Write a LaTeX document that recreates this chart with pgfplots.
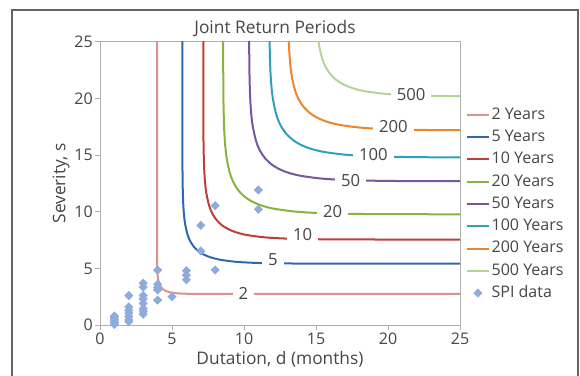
\documentclass[border=0pt]{standalone}
\usepackage{fontspec}
\setmainfont{Open Sans}
\usepackage{pgfplots}
\pgfplotsset{compat=1.18}
\definecolor{axgray}{RGB}{175,175,175}
\definecolor{txtgray}{RGB}{70,70,70}
\definecolor{frgray}{RGB}{100,100,100}
\definecolor{cA}{RGB}{220,145,145}
\definecolor{cB}{RGB}{49,104,172}
\definecolor{cC}{RGB}{190,62,58}
\definecolor{cD}{RGB}{138,178,64}
\definecolor{cE}{RGB}{118,86,160}
\definecolor{cF}{RGB}{45,160,190}
\definecolor{cG}{RGB}{236,134,46}
\definecolor{cH}{RGB}{182,212,150}
\definecolor{cS}{RGB}{143,170,220}
\newcommand{\fs}{\fontsize{12}{14}\selectfont}
\newcommand{\fl}{\fontsize{13}{15}\selectfont}
\newcommand{\fc}{\fontsize{12.5}{14}\selectfont}
\begin{document}
\begin{tikzpicture}
\begin{axis}[name=ax, at={(0,0)}, anchor=south west,
  scale only axis, width=270pt, height=212.25pt,
  xmin=0, xmax=25, ymin=0, ymax=25,
  xtick={0,5,...,25}, ytick={0,5,...,25},
  xtick pos=bottom, ytick pos=left, tick align=outside,
  major tick length=3.75pt,
  axis line style={draw=axgray, line width=0.75pt},
  every tick/.style={draw=axgray, line width=0.75pt},
  /pgf/number format/assume math mode=true,
  tick label style={font=\fs, text=txtgray},
  xticklabel style={inner sep=1pt, yshift=-1pt},
  yticklabel style={inner sep=1.5pt},
  title={Joint Return Periods},
  every axis title/.style={at={(axis description cs:0.486,1.046)}, anchor=center, font=\fl, text=txtgray},
  xlabel={Dutation, d (months)},
  ylabel={Severity, s},
  every axis x label/.style={at={(axis description cs:0.5,-0.12)}, anchor=center, font=\fl, text=txtgray},
  every axis y label/.style={at={(axis description cs:-0.108,0.5)}, rotate=90, anchor=center, font=\fl, text=txtgray},
  legend style={at={(axis description cs:1.011,0.4276)}, anchor=west, draw=none, fill=none,
    font=\fs, text=txtgray, row sep=3.2pt, inner sep=1pt,
    nodes={inner sep=1pt, text height=9pt, text depth=2.5pt}},
  legend cell align=left,
]
\addplot[cA, line width=1.5pt, smooth] coordinates {
(3.96,30) (3.961,6.885) (3.966,5.503) (3.985,4.671) (4.023,4.122) (4.094,3.706) (4.174,3.462) (4.267,3.290) (4.376,3.156) (4.510,3.047) (4.682,2.954) (4.926,2.874) (5.342,2.803) (5.891,2.765) (6.723,2.746) (8.105,2.741) (30,2.74)};
\addlegendentry{2 Years}
\addplot[cB, line width=1.5pt, smooth] coordinates {
(5.72,30) (5.722,16.473) (5.736,12.788) (5.785,10.570) (5.889,9.104) (6.077,7.995) (6.291,7.346) (6.537,6.886) (6.829,6.529) (7.186,6.237) (7.646,5.991) (8.295,5.777) (9.404,5.589) (10.870,5.485) (13.088,5.436) (16.773,5.422) (30,5.42)};
\addlegendentry{5 Years}
\addplot[cC, line width=1.5pt, smooth] coordinates {
(7.17,30) (7.172,20.329) (7.189,16.070) (7.246,13.505) (7.365,11.810) (7.583,10.527) (7.830,9.777) (8.115,9.245) (8.452,8.832) (8.865,8.495) (9.397,8.210) (10.147,7.963) (11.430,7.745) (13.125,7.626) (15.690,7.569) (19.949,7.552) (30,7.55)};
\addlegendentry{10 Years}
\addplot[cD, line width=1.5pt, smooth] coordinates {
(8.55,30) (8.552,24.977) (8.572,19.911) (8.640,16.862) (8.782,14.846) (9.041,13.321) (9.335,12.429) (9.674,11.796) (10.075,11.305) (10.566,10.904) (11.199,10.565) (12.091,10.271) (13.616,10.012) (15.632,9.870) (18.681,9.802) (23.747,9.782) (30,9.78)};
\addlegendentry{20 Years}
\addplot[cE, line width=1.5pt, smooth] coordinates {
(10.35,30) (10.352,27.897) (10.372,22.831) (10.440,19.782) (10.582,17.766) (10.841,16.241) (11.135,15.349) (11.474,14.716) (11.875,14.225) (12.366,13.824) (12.999,13.485) (13.891,13.191) (15.416,12.932) (17.432,12.790) (20.481,12.722) (25.547,12.702) (30,12.7)};
\addlegendentry{50 Years}
\addplot[cF, line width=1.5pt, smooth] coordinates {
(11.752,30.688) (11.773,25.392) (11.844,22.204) (11.992,20.096) (12.263,18.502) (12.570,17.569) (12.925,16.908) (13.344,16.394) (13.858,15.975) (14.519,15.620) (15.452,15.313) (17.046,15.042) (19.154,14.894) (22.342,14.823) (27.638,14.802) (30,14.8)};
\addlegendentry{100 Years}
\addplot[cG, line width=1.5pt, smooth] coordinates {
(13.052,32.397) (13.072,27.331) (13.140,24.282) (13.282,22.266) (13.541,20.741) (13.835,19.849) (14.174,19.216) (14.575,18.725) (15.066,18.324) (15.699,17.985) (16.591,17.691) (18.116,17.432) (20.132,17.290) (23.181,17.222) (28.247,17.202) (30,17.2)};
\addlegendentry{200 Years}
\addplot[cH, line width=1.5pt, smooth] coordinates {
(14.952,34.706) (14.971,29.871) (15.036,26.960) (15.171,25.036) (15.419,23.580) (15.699,22.728) (16.023,22.124) (16.406,21.656) (16.874,21.273) (17.478,20.949) (18.330,20.669) (19.786,20.421) (21.710,20.286) (24.621,20.221) (29.456,20.202) (30,20.2)};
\addlegendentry{500 Years}
\node[fill=white, inner xsep=4.5pt, inner ysep=1pt, font=\fc, text=txtgray] at (axis cs:9.95,2.8) {2};
\node[fill=white, inner xsep=4.5pt, inner ysep=1pt, font=\fc, text=txtgray] at (axis cs:12.0,5.74) {5};
\node[fill=white, inner xsep=4.5pt, inner ysep=1pt, font=\fc, text=txtgray] at (axis cs:14.07,7.95) {10};
\node[fill=white, inner xsep=4.5pt, inner ysep=1pt, font=\fc, text=txtgray] at (axis cs:16.15,10.0) {20};
\node[fill=white, inner xsep=4.5pt, inner ysep=1pt, font=\fc, text=txtgray] at (axis cs:17.4,12.8) {50};
\node[fill=white, inner xsep=4.5pt, inner ysep=1pt, font=\fc, text=txtgray] at (axis cs:18.98,15.07) {100};
\node[fill=white, inner xsep=4.5pt, inner ysep=1pt, font=\fc, text=txtgray] at (axis cs:20.37,17.5) {200};
\node[fill=white, inner xsep=4.5pt, inner ysep=1pt, font=\fc, text=txtgray] at (axis cs:21.6,20.4) {500};
\addplot[only marks, mark=square*, mark size=2.2pt, color=cS, every mark/.append style={rotate=45, fill=cS, draw=cS}] coordinates {
(1,0.05) (1,0.2) (1,0.35) (1,0.5) (1,0.65) (1,0.8)
(2,2.6) (2,1.6) (2,1.3) (2,1.05) (2,0.75) (2,0.45) (2,0.3)
(3,3.7) (3,3.35) (3,2.6) (3,2.3) (3,1.9) (3,1.45) (3,1.2) (3,0.95)
(4,4.85) (4,3.6) (4,3.3) (4,3.1) (4,2.2)
(5,2.5)
(6,4.8) (6,4.4) (6,4.0)
(7,8.8) (7,6.54)
(8,10.54) (8,4.86)
(11,11.93) (11,10.22)};
\addlegendentry{SPI data}
\end{axis}
\begin{scope}[shift={(ax.south west)}]
\draw[frgray, line width=1.1pt] (-66pt,-60pt) -- (-66pt,236.25pt) -- (358.5pt,236.25pt) -- (358.5pt,-60pt);
\pgfresetboundingbox
\path[use as bounding box] (-75pt,-37.5pt) rectangle (360pt,243.75pt);
\end{scope}
\end{tikzpicture}
\end{document}
